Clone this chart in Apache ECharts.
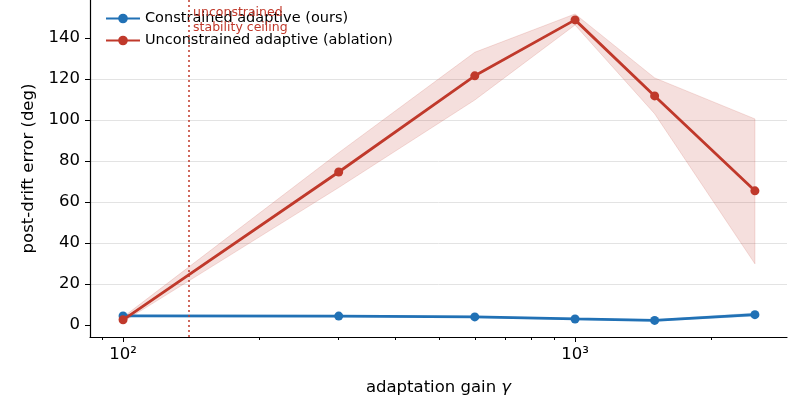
<!DOCTYPE html>
<html>
<head>
<meta charset="utf-8">
<script src="https://cdn.jsdelivr.net/npm/echarts@6/dist/echarts.min.js"></script>
<style>
  html, body { margin: 0; padding: 0; background: #fff; }
  #main { width: 806px; height: 418px; }
</style>
</head>
<body>
<div id="main"></div>
<script>
// adaptation gain values (x, log scale)
const gains = [100, 300, 600, 1000, 1500, 2500]
// constrained adaptive (ours)
const constrainedMean = [4.4, 4.3, 3.9, 2.9, 2.2, 5.0]
const constrainedLow = [4.1, 4.0, 3.6, 2.6, 1.9, 4.3]
const constrainedHigh = [4.7, 4.6, 4.2, 3.2, 2.5, 5.8]
// unconstrained adaptive (ablation)
const unconstrainedMean = [2.5, 74.6, 121.5, 148.8, 111.7, 65.4]
const unconstrainedLow = [1.5, 67, 109.7, 146.3, 103, 29.8]
const unconstrainedHigh = [3.8, 84, 133, 151.7, 120.5, 100.5]
const stabilityCeiling = 140
// ticks
const yTicks = [0, 20, 40, 60, 80, 100, 120, 140]
const xMajorTicks = [100, 1000]
const xMinorTicks = [90, 200, 300, 400, 500, 600, 700, 800, 900, 2000]

const BLUE = '#2171b5'
const RED = '#c0392b'
const FONT = 'DejaVu Sans'

const chart = echarts.init(document.getElementById('main'))

const pairs = (ys) => gains.map((g, i) => [g, ys[i]])
const supers = { 100: '10²', 1000: '10³' }

// shaded spread between low and high, drawn through the axis scales
function bandSeries(lo, hi, color) {
  return {
    type: 'custom', silent: true, z: 1,
    data: pairs(lo),
    renderItem: function (params, api) {
      if (params.dataIndex !== 0) return null
      const top = gains.map((g, i) => api.coord([g, hi[i]]))
      const bottom = gains.map((g, i) => api.coord([g, lo[i]])).reverse()
      return {
        type: 'polygon',
        shape: { points: top.concat(bottom) },
        style: { fill: color, opacity: 0.16, stroke: color, lineWidth: 1 }
      }
    }
  }
}

const option = {
  animation: false,
  textStyle: { fontFamily: FONT },
  grid: { left: 90, right: 19, top: 0, bottom: 81 },
  legend: {
    orient: 'vertical', left: 100, top: 6,
    itemWidth: 34, itemHeight: 12, itemGap: 7,
    textStyle: { fontSize: 14.5, color: '#000', fontFamily: FONT },
    data: ['Constrained adaptive (ours)', 'Unconstrained adaptive (ablation)']
  },
  xAxis: [
    {
      type: 'log', logBase: 10, min: 84.5, max: 2944,
      name: 'adaptation gain {i|γ}', nameLocation: 'middle', nameGap: 42,
      nameTextStyle: {
        fontSize: 16.5, color: '#000', fontFamily: FONT,
        rich: { i: { fontSize: 16.5, fontStyle: 'italic', fontFamily: FONT, color: '#000' } }
      },
      axisLine: { onZero: false, lineStyle: { color: '#000', width: 1.2 } },
      axisTick: { customValues: xMajorTicks, length: 5, lineStyle: { color: '#000' } },
      axisLabel: {
        customValues: xMajorTicks, margin: 9, fontSize: 16.5, color: '#000',
        formatter: (v) => supers[Math.round(v)] || ''
      },
      splitLine: { show: true, showMinLine: false, showMaxLine: false, lineStyle: { color: '#e3e3e3', width: 1 } }
    },
    {
      type: 'log', logBase: 10, min: 84.5, max: 2944, position: 'bottom',
      axisLine: { show: false, onZero: false },
      axisTick: { customValues: xMinorTicks, length: 3, lineStyle: { color: '#000' } },
      axisLabel: { show: false },
      splitLine: { show: false }
    }
  ],
  yAxis: {
    type: 'value', min: -5.9, max: 158.5, splitNumber: 8,
    name: 'post-drift error (deg)', nameLocation: 'middle', nameGap: 50,
    nameTextStyle: { fontSize: 16.5, color: '#000', fontFamily: FONT },
    axisLine: { show: true, onZero: false, lineStyle: { color: '#000', width: 1.2 } },
    axisTick: { show: true, customValues: yTicks, length: 5, lineStyle: { color: '#000' } },
    axisLabel: { customValues: yTicks, margin: 10, fontSize: 16.5, color: '#000' },
    splitLine: { show: true, showMinLine: false, showMaxLine: false, lineStyle: { color: '#e3e3e3', width: 1 } }
  },
  series: [
    bandSeries(constrainedLow, constrainedHigh, BLUE),
    bandSeries(unconstrainedLow, unconstrainedHigh, RED),
    {
      name: 'Constrained adaptive (ours)', type: 'line', data: pairs(constrainedMean),
      symbol: 'circle', symbolSize: 9, color: BLUE,
      lineStyle: { width: 2.8, color: BLUE }, itemStyle: { color: BLUE }, z: 3
    },
    {
      name: 'Unconstrained adaptive (ablation)', type: 'line', data: pairs(unconstrainedMean),
      symbol: 'circle', symbolSize: 9, color: RED,
      lineStyle: { width: 2.8, color: RED }, itemStyle: { color: RED }, z: 4,
      markLine: {
        silent: true, symbol: 'none', animation: false,
        lineStyle: { type: [2, 3], color: RED, width: 1.5 },
        label: { show: false },
        data: [{ xAxis: stabilityCeiling }]
      },
      markPoint: {
        silent: true, symbol: 'circle', symbolSize: 0,
        data: [{ coord: [stabilityCeiling, 157], value: 0 }],
        label: {
          show: true, position: [4, 2], fontSize: 12.5, lineHeight: 15,
          color: RED, fontFamily: FONT,
          formatter: 'unconstrained\nstability ceiling'
        }
      }
    }
  ]
}

chart.setOption(option)
</script>
</body>
</html>
